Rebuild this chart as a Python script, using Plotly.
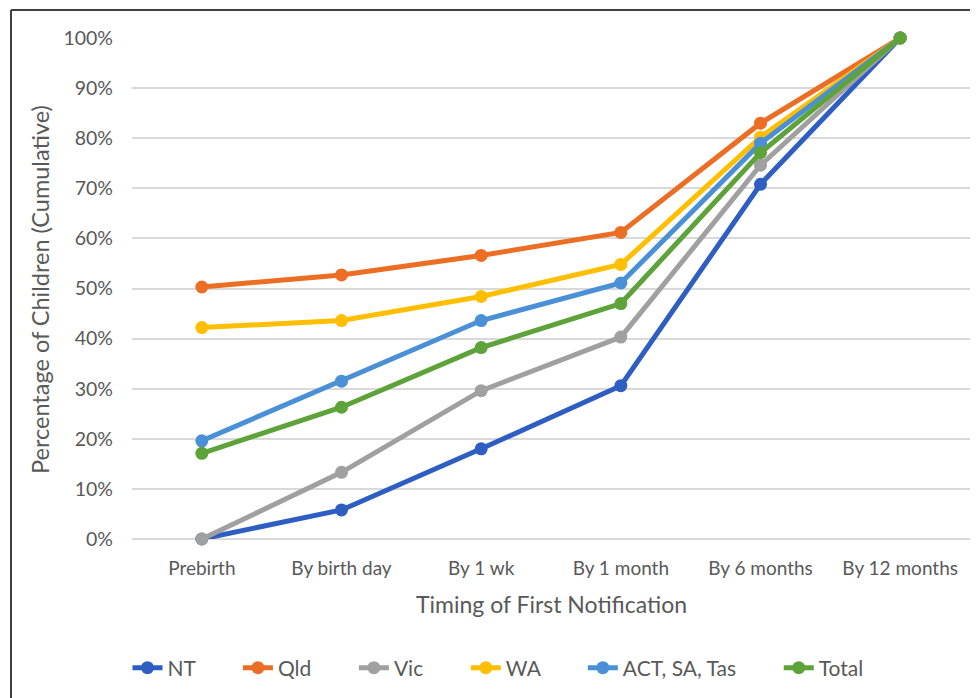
import plotly.graph_objects as go

categories = ["Prebirth", "By birth day", "By 1 wk", "By 1 month", "By 6 months", "By 12 months"]
series_names = ["NT", "Qld", "Vic", "WA", "ACT, SA, Tas", "Total"]
nt = [0.0, 5.8, 18.0, 30.6, 70.8, 100.0]
qld = [50.3, 52.7, 56.6, 61.2, 83.0, 100.0]
vic = [0.0, 13.3, 29.6, 40.3, 74.6, 100.0]
wa = [42.2, 43.6, 48.4, 54.8, 80.2, 100.0]
act_sa_tas = [19.6, 31.5, 43.6, 51.1, 79.0, 100.0]
total = [17.1, 26.3, 38.2, 47.0, 77.1, 100.0]
colors = ["#2E5EC2", "#EC6E24", "#A0A0A0", "#FFBF00", "#4A90D6", "#5DA33A"]
yticks = [0, 10, 20, 30, 40, 50, 60, 70, 80, 90, 100]

FONT = "Lato"
GREY = "#595959"
OFF = 8  # page body margin
PAD = "\u00a0" * 7

fig = go.Figure()
all_vals = [nt, qld, vic, wa, act_sa_tas, total]
for i, (name, vals, col) in enumerate(zip(series_names, all_vals, colors)):
    label = name + (PAD if i < len(series_names) - 1 else "")
    fig.add_trace(go.Scatter(
        x=categories, y=vals, name=label, mode="lines+markers",
        line=dict(color=col, width=5),
        marker=dict(color=col, size=13),
        cliponaxis=False,
    ))

W, H = 978 - OFF, 698 - OFF
L, T = 132 - OFF, 38 - OFF
pw, ph = 838, 501
R = W - L - pw
B = H - T - ph


def px(xs):
    return (xs - OFF - L) / pw


def py(ys):
    return (T + ph - (ys - OFF)) / ph


fig.update_layout(
    width=W, height=H,
    margin=dict(l=L, r=R, t=T, b=B),
    paper_bgcolor="white", plot_bgcolor="white",
    font=dict(family=FONT, size=19, color=GREY),
    showlegend=True,
    legend=dict(orientation="h", x=px(498), xanchor="center",
                y=py(668), yanchor="middle",
                font=dict(size=21, color=GREY), tracegroupgap=0),
    xaxis=dict(type="category", range=[-0.5, 5.5], showgrid=False, showline=False,
               ticks="", ticklabelstandoff=16, tickfont=dict(size=19, color=GREY)),
    yaxis=dict(range=[0, 100], tickvals=yticks, ticktext=[f"{v}%" for v in yticks],
               showgrid=True, gridcolor="#D9D9D9", gridwidth=1.5,
               zeroline=True, zerolinecolor="#D9D9D9", zerolinewidth=1.5,
               showline=False, ticks="", ticklabelstandoff=18,
               tickfont=dict(size=19.5, color=GREY)),
    annotations=[
        dict(text="Timing of First Notification", xref="paper", yref="paper",
             x=px(551), y=py(604), xanchor="center", yanchor="middle",
             showarrow=False, font=dict(size=23, color=GREY)),
        dict(text="Percentage of Children (Cumulative)", xref="paper", yref="paper",
             x=px(40), y=py(290), xanchor="center", yanchor="middle",
             textangle=-90, showarrow=False, font=dict(size=23.5, color=GREY)),
    ],
    shapes=[
        dict(type="line", xref="paper", yref="paper",
             x0=px(11), x1=px(11), y0=py(720), y1=py(10),
             line=dict(color="#404040", width=2)),
        dict(type="line", xref="paper", yref="paper",
             x0=px(11), x1=px(1000), y0=py(10), y1=py(10),
             line=dict(color="#404040", width=2)),
    ],
)

fig.write_html("out.html")
